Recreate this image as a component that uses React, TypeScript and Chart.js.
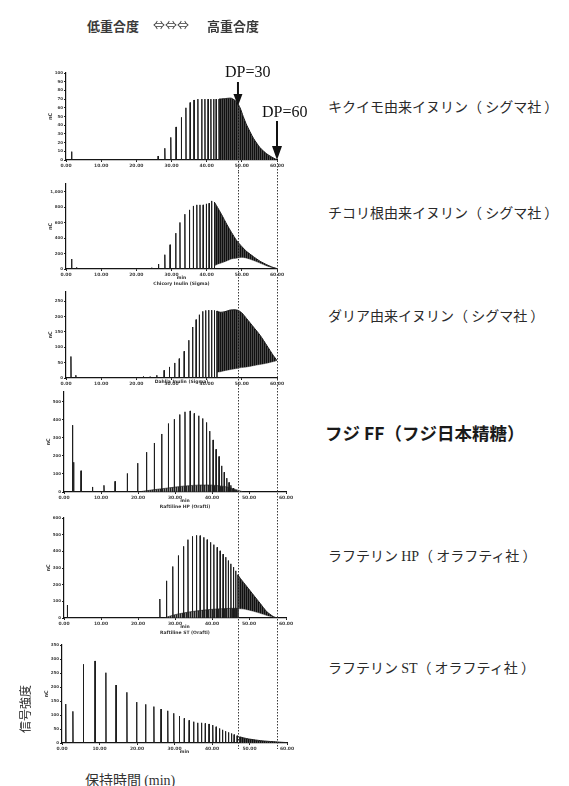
import React, { useEffect, useRef } from "react";
import { Chart, registerables } from "chart.js";
Chart.register(...registerables);

// ---------- DATA (retention time in min, signal in each panel's own units) ----------
// Panel 1: キクイモ由来イヌリン
const p1PeakT = [1.6, 26.2, 28.1, 29.8, 31.3, 32.8, 34.1, 35.3, 36.4, 37.5, 38.6, 39.5, 40.4, 41.2, 42.0, 42.7, 43.5];
const p1PeakH = [9.6, 4.6, 13.5, 26, 38, 49, 60, 66, 69, 70, 70, 70, 70, 70, 70, 70, 70];
const p1EnvT = [43.5, 45.0, 47.0, 48.5, 49.5, 50.4, 51.4, 53.3, 55.2, 57.1, 58.9, 60.0];
const p1EnvHi = [70, 70.5, 71, 67, 60, 50, 40, 25, 14, 7, 2.5, 0];
const p1EnvLo = [0, 0, 0, 0, 0, 0, 0, 0, 0, 0, 0, 0];
const p1BaseT: number[] = [];
const p1BaseH: number[] = [];

// Panel 2: チコリ根由来イヌリン
const p2PeakT = [1.6, 3.0, 24.4, 26.3, 28.1, 29.6, 31.2, 32.4, 33.8, 35.1, 36.2, 37.2, 38.1, 39.0, 39.9, 40.7, 41.4, 42.2];
const p2PeakH = [129, 21, 17, 64, 185, 314, 464, 602, 709, 765, 816, 830, 830, 830, 843, 851, 881, 864];
const p2EnvT = [42.2, 42.8, 44.3, 45.7, 47.1, 48.5, 50.0, 51.4, 53.3, 55.2, 57.1, 58.9, 60.0];
const p2EnvHi = [864, 820, 700, 580, 470, 370, 290, 225, 160, 100, 55, 20, 5];
const p2EnvLo = [40, 55, 80, 105, 130, 140, 150, 140, 110, 75, 40, 15, 5];
const p2BaseT: number[] = [];
const p2BaseH: number[] = [];

// Panel 3: ダリア由来イヌリン
const p3PeakT = [1.4, 2.8, 22.0, 23.9, 25.8, 27.9, 29.4, 30.9, 32.2, 33.6, 34.9, 36.0, 37.0, 37.9, 38.9, 39.7, 40.6, 41.4, 42.2, 42.9];
const p3PeakH = [70, 9, 5, 4, 9, 25, 36, 49, 63, 87, 123, 166, 190, 206, 217, 220, 221, 221, 220, 218];
const p3EnvT = [42.9, 43.8, 45.2, 46.6, 48.1, 49.0, 50.0, 51.4, 53.3, 55.2, 57.1, 58.9, 60.0];
const p3EnvHi = [218, 214, 216, 221, 222, 220, 212, 193, 166, 139, 106, 74, 57];
const p3EnvLo = [18, 20, 24, 27, 30, 32, 34, 36, 40, 44, 48, 53, 57];
const p3BaseT: number[] = [];
const p3BaseH: number[] = [];

// Panel 4: フジ FF
const p4PeakT = [2.3, 2.6, 4.6, 7.7, 10.8, 13.8, 17.1, 19.9, 22.3, 24.4, 26.4, 28.2, 29.8, 31.3, 32.7, 34.1, 35.2, 36.4, 37.5, 38.5, 39.4, 40.3, 41.1, 41.9, 42.6, 43.3, 44.0, 44.6, 45.1, 45.8, 46.4, 46.9];
const p4PeakH = [371, 165, 118, 28, 37, 59, 103, 160, 221, 272, 322, 380, 404, 430, 445, 450, 436, 423, 408, 386, 338, 289, 237, 197, 145, 110, 77, 53, 37, 22, 11, 4];
const p4EnvT: number[] = [];
const p4EnvHi: number[] = [];
const p4EnvLo: number[] = [];
const p4BaseT = [20, 24, 28, 32, 36, 40, 44, 47, 48.5];
const p4BaseH = [0, 12, 22, 32, 38, 38, 28, 10, 0];

// Panel 5: ラフテリン HP
const p5PeakT = [0.9, 25.9, 27.7, 29.4, 30.9, 32.3, 33.5, 34.7, 35.8, 36.8, 37.8, 38.7, 39.6, 40.5, 41.4, 42.2, 43.0, 43.7, 44.4, 45.1, 45.8, 46.4, 47.0];
const p5PeakH = [78, 114, 223, 309, 375, 430, 470, 490, 496, 494, 484, 470, 454, 440, 424, 403, 383, 365, 345, 325, 305, 283, 259];
const p5EnvT = [47.0, 47.6, 49.4, 51.2, 53.0, 54.8, 56.6, 57.7];
const p5EnvHi = [259, 239, 189, 138, 88, 38, 8, 0];
const p5EnvLo = [55, 55, 50, 40, 28, 15, 5, 0];
const p5BaseT = [27, 30, 35, 40, 45, 47];
const p5BaseH = [0, 20, 40, 52, 58, 58];

// Panel 6: ラフテリン ST
const p6PeakT = [1.0, 2.9, 5.7, 8.8, 11.7, 14.4, 17.3, 19.9, 22.3, 24.5, 26.4, 28.2, 29.8, 31.3, 32.6, 33.9, 35.1, 36.2, 37.2, 38.2, 39.2, 40.2, 41.1, 42.0, 42.8, 43.6, 44.4, 45.2, 45.9, 46.7, 47.4];
const p6PeakH = [139, 113, 281, 293, 251, 207, 181, 146, 138, 130, 121, 115, 106, 96, 88, 81, 76, 72, 72, 70, 68, 64, 58, 52, 47, 42, 38, 34, 30, 26, 22];
const p6EnvT = [47.4, 48.5, 50, 52, 54, 56, 58, 60];
const p6EnvHi = [22, 18, 14, 10, 7, 5, 3, 1.5];
const p6EnvLo = [0, 0, 0, 0, 0, 0, 0, 0];
const p6BaseT: number[] = [];
const p6BaseH: number[] = [];

// axes
const xMaxMin = 60;
const xStepMin = 10;
const yMaxes = [100, 1100, 280, 555, 600, 350];
const ySteps = [10, 200, 50, 100, 100, 50];
// DP=30 / DP=60 positions on each panel's time axis
const dp30T = [48.9, 48.9, 48.9, 47.0, 47.0, 46.9];
const dp60T = [60.0, 60.0, 60.0, 57.6, 57.6, 57.3];

const sampleNames = [
  "キクイモ由来イヌリン（ シグマ社 ）",
  "チコリ根由来イヌリン（ シグマ社 ）",
  "ダリア由来イヌリン（ シグマ社 ）",
];
const xCaptions = [
  [] as string[],
  ["min", "Chicory Inulin (Sigma)"],
  ["Dahlia Inulin (Sigma)"],
  ["min", "Raftiline HP (Orafti)"],
  ["min", "Raftiline ST (Orafti)"],
  ["min"],
];

const series = [
  { pt: p1PeakT, ph: p1PeakH, et: p1EnvT, eh: p1EnvHi, el: p1EnvLo, bt: p1BaseT, bh: p1BaseH },
  { pt: p2PeakT, ph: p2PeakH, et: p2EnvT, eh: p2EnvHi, el: p2EnvLo, bt: p2BaseT, bh: p2BaseH },
  { pt: p3PeakT, ph: p3PeakH, et: p3EnvT, eh: p3EnvHi, el: p3EnvLo, bt: p3BaseT, bh: p3BaseH },
  { pt: p4PeakT, ph: p4PeakH, et: p4EnvT, eh: p4EnvHi, el: p4EnvLo, bt: p4BaseT, bh: p4BaseH },
  { pt: p5PeakT, ph: p5PeakH, et: p5EnvT, eh: p5EnvHi, el: p5EnvLo, bt: p5BaseT, bh: p5BaseH },
  { pt: p6PeakT, ph: p6PeakH, et: p6EnvT, eh: p6EnvHi, el: p6EnvLo, bt: p6BaseT, bh: p6BaseH },
];

// ---------- LAYOUT (page pixels) ----------
const CW = 300;
const LAYOUT = [
  { top: 60, axTop: 73, base: 160, left: 66, right: 277, bottom: 172 },
  { top: 172, axTop: 184, base: 269, left: 66, right: 277, bottom: 286 },
  { top: 286, axTop: 292, base: 378, left: 66, right: 277, bottom: 388 },
  { top: 388, axTop: 392, base: 492, left: 64, right: 286, bottom: 514 },
  { top: 514, axTop: 518, base: 618, left: 64, right: 286, bottom: 640 },
  { top: 640, axTop: 645, base: 743, left: 62, right: 287, bottom: 762 },
];

const INK = "#1c1c1c";

function zip(ts: number[], hs: number[]) {
  return ts.map((t, i) => ({ x: t, y: hs[i] }));
}
function spikes(ts: number[], hs: number[]) {
  const out: { x: number; y: number }[] = [];
  ts.forEach((t, i) => {
    out.push({ x: t - 0.07, y: 0 }, { x: t, y: hs[i] }, { x: t + 0.07, y: 0 });
  });
  return out;
}

function stripes(dark: string, light: string) {
  const c = document.createElement("canvas");
  c.width = 2;
  c.height = 1;
  const g = c.getContext("2d") as CanvasRenderingContext2D;
  g.fillStyle = dark;
  g.fillRect(0, 0, 1, 1);
  g.fillStyle = light;
  g.fillRect(1, 0, 1, 1);
  return g.createPattern(c, "repeat") as CanvasPattern;
}

const overlayPlugin = {
  id: "overlay",
  afterDraw(chart: any, _a: any, opts: any) {
    const { ctx, scales } = chart;
    const x = scales.x;
    ctx.save();
    ctx.strokeStyle = "#3a3a3a";
    ctx.lineWidth = 1;
    ctx.setLineDash([1.5, 1.5]);
    for (const l of opts.lines) {
      const px = Math.round(x.getPixelForValue(l.t)) + 0.5;
      ctx.beginPath();
      ctx.moveTo(px, l.from);
      ctx.lineTo(px, l.to);
      ctx.stroke();
    }
    ctx.setLineDash([]);
    ctx.fillStyle = "#111";
    ctx.strokeStyle = "#111";
    ctx.lineWidth = 2;
    for (const a of opts.arrows) {
      const px = x.getPixelForValue(a.t);
      ctx.beginPath();
      ctx.moveTo(px, a.y0);
      ctx.lineTo(px, a.yHead + 1);
      ctx.stroke();
      ctx.beginPath();
      ctx.moveTo(px - a.hw, a.yHead);
      ctx.lineTo(px + a.hw, a.yHead);
      ctx.lineTo(px, a.yTip);
      ctx.closePath();
      ctx.fill();
    }
    const ca = chart.chartArea;
    ctx.fillStyle = "#333";
    ctx.font = "bold 5px 'DejaVu Sans'";
    ctx.textAlign = "center";
    ctx.textBaseline = "middle";
    ctx.save();
    ctx.translate(ca.left - 15, (ca.top + ca.bottom) / 2);
    ctx.rotate(-Math.PI / 2);
    ctx.fillText("nC", 0, 0);
    ctx.restore();
    ctx.font = "bold 4.5px 'DejaVu Sans'";
    opts.captions.forEach((c: string, i: number) => {
      ctx.fillText(c, (ca.left + ca.right) / 2 + 10, ca.bottom + opts.capY[i]);
    });
    ctx.restore();
  },
};

function makeConfig(i: number): any {
  const L = LAYOUT[i];
  const s = series[i];
  const H = L.bottom - L.top;
  const datasets: any[] = [
    {
      data: spikes(s.pt, s.ph),
      borderColor: INK,
      borderWidth: 1,
      pointRadius: 0,
      fill: false,
      tension: 0,
    },
  ];
  if (s.et.length) {
    datasets.push({
      data: zip(s.et, s.eh),
      borderColor: INK,
      borderWidth: 1,
      backgroundColor: stripes("#101010", "#4a4a4a"),
      pointRadius: 0,
      fill: "+1",
      tension: 0.2,
    });
    datasets.push({
      data: zip(s.et, s.el),
      borderColor: "rgba(40,40,40,0.6)",
      borderWidth: 0.6,
      pointRadius: 0,
      fill: false,
      tension: 0.2,
    });
  }
  if (s.bt.length) {
    datasets.push({
      data: zip(s.bt, s.bh),
      borderColor: "rgba(30,30,30,0.8)",
      borderWidth: 0.8,
      backgroundColor: stripes("#222", "#888"),
      pointRadius: 0,
      fill: "origin",
      tension: 0.3,
    });
  }
  const step = ySteps[i];
  const lines: any[] = [];
  const arrows: any[] = [];
  if (i === 0) {
    lines.push({ t: dp30T[i], from: 107 - L.top, to: H });
    lines.push({ t: dp60T[i], from: 160 - L.top, to: H });
    arrows.push({ t: dp30T[i], y0: 82 - L.top, yHead: 94 - L.top, yTip: 106 - L.top, hw: 4.5 });
    arrows.push({ t: dp60T[i], y0: 121 - L.top, yHead: 146 - L.top, yTip: 160 - L.top, hw: 5 });
  } else {
    const end = i === 5 ? L.base + 6 - L.top : H;
    lines.push({ t: dp30T[i], from: 0, to: end });
    lines.push({ t: dp60T[i], from: 0, to: end });
  }
  const capY = xCaptions[i].length === 1 && i === 2 ? [4] : [9, 15];
  return {
    type: "line",
    data: { datasets },
    plugins: [overlayPlugin],
    options: {
      animation: false,
      responsive: false,
      devicePixelRatio: 1,
      events: [],
      layout: {
        autoPadding: false,
        padding: { left: 0, top: L.axTop - L.top, right: CW - L.right, bottom: 0 },
      },
      plugins: {
        legend: { display: false },
        tooltip: { enabled: false },
        overlay: { lines, arrows, captions: xCaptions[i], capY },
      },
      scales: {
        x: {
          type: "linear",
          min: 0,
          max: xMaxMin,
          afterFit: (sc: any) => {
            sc.height = L.bottom - L.base;
          },
          ticks: {
            stepSize: xStepMin,
            autoSkip: false,
            maxRotation: 0,
            font: { size: 4.5, weight: "bold", family: "DejaVu Sans" },
            color: "#444",
            padding: 1,
            callback: (v: any) => Number(v).toFixed(2),
          },
          grid: { drawOnChartArea: false, tickLength: 2, color: "#222" },
          border: { color: "#111", width: 1.2 },
        },
        y: {
          type: "linear",
          min: 0,
          max: yMaxes[i],
          afterFit: (sc: any) => {
            sc.width = L.left;
          },
          afterBuildTicks: (sc: any) => {
            sc.ticks = sc.ticks.filter((t: any) => Math.abs(t.value / step - Math.round(t.value / step)) < 1e-6);
          },
          ticks: {
            stepSize: step,
            autoSkip: false,
            font: { size: 4, weight: "bold", family: "DejaVu Sans" },
            color: "#444",
            padding: 1,
          },
          grid: { drawOnChartArea: false, tickLength: 2, color: "#222" },
          border: { color: "#111", width: 1.2 },
        },
      },
    },
  };
}

const jp = "'Noto Sans CJK JP', 'Noto Sans CJK SC', sans-serif";
const serif = "'Liberation Serif', 'DejaVu Serif', serif";

function Txt(props: { x: number; cy: number; fs: number; children: any; style?: any }) {
  return (
    <div
      style={{
        position: "absolute",
        left: props.x,
        top: props.cy - props.fs / 2,
        fontSize: props.fs,
        lineHeight: `${props.fs}px`,
        whiteSpace: "nowrap",
        ...props.style,
      }}
    >
      {props.children}
    </div>
  );
}

export default function App() {
  const refs = useRef<(HTMLCanvasElement | null)[]>([]);
  useEffect(() => {
    const charts = LAYOUT.map((_, i) => new Chart(refs.current[i] as HTMLCanvasElement, makeConfig(i)));
    return () => charts.forEach((c) => c.destroy());
  }, []);
  return (
    <div
      style={{
        position: "absolute",
        left: 0,
        top: 0,
        width: 569,
        height: 786,
        background: "#fff",
        overflow: "hidden",
        fontFamily: jp,
        color: "#2a2a2a",
      }}
    >
      {LAYOUT.map((l, i) => (
        <canvas
          key={i}
          ref={(el) => {
            refs.current[i] = el;
          }}
          width={CW}
          height={l.bottom - l.top}
          style={{ position: "absolute", left: 0, top: l.top, width: CW, height: l.bottom - l.top }}
        />
      ))}
      <Txt x={87} cy={25} fs={13} style={{ fontWeight: "bold", color: "#3a3a3a" }}>低重合度</Txt>
      <Txt x={153} cy={25} fs={12} style={{ color: "#3a3a3a" }}>⇔⇔⇔</Txt>
      <Txt x={207} cy={25} fs={13} style={{ fontWeight: "bold", color: "#3a3a3a" }}>高重合度</Txt>
      <Txt x={225} cy={72} fs={16} style={{ fontFamily: serif, color: "#111" }}>DP=30</Txt>
      <Txt x={262} cy={112} fs={16} style={{ fontFamily: serif, color: "#111" }}>DP=60</Txt>
      <Txt x={328} cy={106} fs={14}>{sampleNames[0]}</Txt>
      <Txt x={328} cy={212} fs={14}>{sampleNames[1]}</Txt>
      <Txt x={328} cy={315} fs={14}>{sampleNames[2]}</Txt>
      <Txt x={325} cy={433} fs={17.5} style={{ fontWeight: "bold", color: "#1a1a1a" }}>
        フジ FF（フジ日本精糖）
      </Txt>
      <Txt x={328} cy={555} fs={14}>
        ラフテリン <span style={{ fontFamily: serif }}>HP</span>（ オラフティ社 ）
      </Txt>
      <Txt x={328} cy={667} fs={14}>
        ラフテリン <span style={{ fontFamily: serif }}>ST</span>（ オラフティ社 ）
      </Txt>
      <Txt x={85} cy={779} fs={14} style={{ color: "#333" }}>
        保持時間 <span style={{ fontFamily: serif }}>(min)</span>
      </Txt>
      <div
        style={{
          position: "absolute",
          left: 25,
          top: 709,
          transform: "translate(-50%, -50%) rotate(-90deg)",
          fontSize: 12,
          lineHeight: "12px",
          whiteSpace: "nowrap",
        }}
      >
        信号強度
      </div>
    </div>
  );
}
